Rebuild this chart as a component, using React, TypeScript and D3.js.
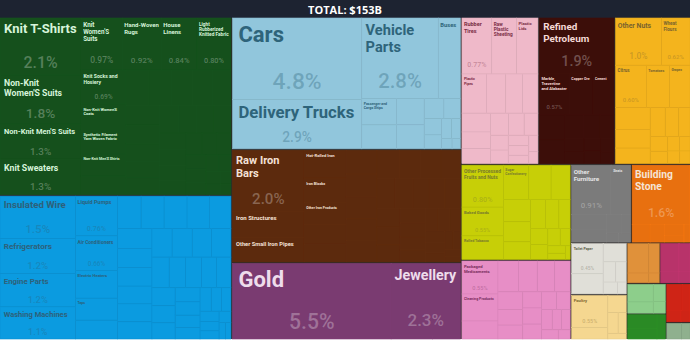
import React, { useMemo } from "react";
import * as d3 from "d3";

const WIDTH = 690;
const HEIGHT = 356;
const HEADER = 18;
const MAP_H = 321;
const TITLE = "TOTAL: $153B";

type Item = [string, number];

// values are shares of total exports (%)
const textiles: Item[] = [
  ["Knit T-Shirts", 2.1], ["Non-Knit Women'S Suits", 1.8], ["Non-Knit Men'S Suits", 1.3], ["Knit Sweaters", 1.3],
  ["Knit Women'S Suits", 0.97], ["Hand-Woven Rugs", 0.92], ["House Linens", 0.84], ["Light Rubberized Knitted Fabric", 0.8],
  ["Knit Socks and Hosiery", 0.69], ["Non-Knit Women'S Coats", 0.51], ["Synthetic Filament Yarn Woven Fabric", 0.51],
  ["Non-Knit Men'S Shirts", 0.45], ["Non-Retail Synthetic Filament Yarn", 0.38],
  ["Heavy Pure Woven Cotton", 0.37], ["Knit Men'S Shirts", 0.36], ["Knit Women'S Undergarments", 0.34],
  ["Non-Knit Women'S Shirts", 0.32], ["Synthetic Staple Fibers Yarn", 0.3], ["Tufted Carpets", 0.3],
  ["Knit Women'S Shirts", 0.28], ["Cotton Yarn", 0.27], ["Knit Babies' Garments", 0.25], ["Non-Knit Active Wear", 0.25],
  ["Other Knit Garments", 0.24], ["Women'S Undergarments", 0.22], ["Light Pure Woven Cotton", 0.22],
  ["Knit Active Wear", 0.21], ["Synthetic Fabrics", 0.2], ["Non-Knit Men'S Coats", 0.19], ["Knit Men'S Suits", 0.18],
  ["Artificial Filament Yarn Woven Fabric", 0.17], ["Embroidery", 0.16], ["Terry Fabric", 0.15], ["Felt", 0.14],
  ["Knit Gloves", 0.13], ["Other Carpets", 0.12], ["Rubber Textiles", 0.11], ["Tire Cord Fabric", 0.1],
  ["Labels", 0.09], ["Used Clothing", 0.08], ["Sacks", 0.07], ["Twine and Rope", 0.06], ["Raw Cotton", 0.05],
];

const machines: Item[] = [
  ["Insulated Wire", 1.45], ["Refrigerators", 1.2], ["Engine Parts", 1.15], ["Washing Machines", 1.1],
  ["Liquid Pumps", 0.76], ["Air Conditioners", 0.66], ["Electric Heaters", 0.53], ["Taps", 0.42], ["Valves", 0.36],
  ["Centrifuges", 0.35], ["AC Generators", 0.34], ["Electric Motors", 0.34], ["Transformers", 0.33],
  ["Low-Voltage Protection Equipment", 0.32], ["Electrical Control Boards", 0.31], ["Lifting Machinery", 0.3],
  ["Industrial Food Preparation Machinery", 0.29], ["Other Heating Machinery", 0.28], ["Ball Bearings", 0.28],
  ["Compressors", 0.27], ["Dishwashers", 0.26], ["Electric Batteries", 0.26], ["Broadcasting Equipment", 0.25],
  ["Video Displays", 0.25], ["Air Pumps", 0.24], ["Transmissions", 0.23], ["Spark-Ignition Engines", 0.22],
  ["Electric Filament", 0.21], ["Large Construction Vehicles", 0.2], ["Harvesting Machinery", 0.19],
  ["Pulley Systems", 0.18], ["Textile Processing Machines", 0.17], ["Metalworking Machines", 0.16],
  ["Electrical Lighting", 0.15], ["Sewing Machines", 0.14], ["Vacuum Cleaners", 0.13], ["Printers", 0.12],
  ["Computers", 0.11], ["Telephones", 0.1], ["Microphones", 0.09], ["Electric Soldering Equipment", 0.08],
  ["Semiconductor Devices", 0.07], ["Capacitors", 0.06], ["Fuses", 0.05], ["Machine Molds", 0.04],
];

const transport: Item[] = [
  ["Cars", 4.8], ["Delivery Trucks", 2.9], ["Vehicle Parts", 2.8], ["Buses", 0.81],
  ["Passenger and Cargo Ships", 0.42], ["Aircraft Parts", 0.38], ["Tractors", 0.33], ["Trailers", 0.3],
  ["Motorcycles", 0.18], ["Railway Freight Cars", 0.15], ["Recreational Boats", 0.13], ["Bicycles", 0.11],
  ["Special Purpose Ships", 0.09], ["Planes", 0.08], ["Motorcycle Parts", 0.05], ["Baby Carriages", 0.04],
];

const metals: Item[] = [
  ["Raw Iron Bars", 2.0], ["Iron Structures", 0.85], ["Other Small Iron Pipes", 0.8],
  ["Hot-Rolled Iron", 0.53], ["Iron Blocks", 0.47], ["Other Iron Products", 0.42], ["Aluminium Plating", 0.38],
  ["Aluminium Bars", 0.34], ["Iron Pipes", 0.33], ["Raw Aluminium", 0.32], ["Refined Copper", 0.31],
  ["Copper Wire", 0.3], ["Iron Fasteners", 0.3], ["Large Flat-Rolled Iron", 0.29], ["Coated Flat-Rolled Iron", 0.27],
  ["Hot-Rolled Iron Bars", 0.26], ["Ferroalloys", 0.25], ["Aluminium Structures", 0.25], ["Aluminium Foil", 0.24],
  ["Iron Stovetops", 0.22], ["Iron Radiators", 0.22], ["Copper Pipes", 0.21], ["Zinc Bars", 0.2], ["Padlocks", 0.19],
  ["Cutlery", 0.18], ["Hand Saws", 0.17], ["Interchangeable Tool Parts", 0.16], ["Iron Chains", 0.15],
  ["Iron Springs", 0.14], ["Other Cast Iron Products", 0.13], ["Iron Nails", 0.12], ["Metal Mountings", 0.11],
  ["Aluminium Cans", 0.1], ["Iron Gas Containers", 0.09], ["Iron Anchors", 0.08], ["Aluminium Wire", 0.07],
  ["Copper Plating", 0.06], ["Lead", 0.05], ["Iron Cloth", 0.04],
];

const precious: Item[] = [
  ["Gold", 5.5], ["Jewellery", 2.3], ["Silver", 0.06], ["Precious Metal Scraps", 0.04],
];

const plastics: Item[] = [
  ["Rubber Tires", 0.77], ["Raw Plastic Sheeting", 0.64], ["Plastic Lids", 0.55], ["Plastic Pipes", 0.44],
  ["Polyacetals", 0.35], ["Plastic Housewares", 0.3], ["Ethylene Polymers", 0.28],
  ["Other Plastic Sheetings", 0.25], ["Plastic Floor Coverings", 0.22], ["Rubber Belts", 0.2],
  ["Propylene Polymers", 0.18], ["Vinyl Chloride Polymers", 0.16], ["Rubber Pipes", 0.14], ["Styrene Polymers", 0.12],
  ["Other Rubber Products", 0.11], ["Synthetic Rubber", 0.1], ["Hard Rubber", 0.09], ["Rubber Inner Tubes", 0.08],
  ["Plastic Coated Textile Fabric", 0.07], ["Acrylic Polymers", 0.05],
];

const minerals: Item[] = [
  ["Refined Petroleum", 1.9], ["Marble, Travertine and Alabaster", 0.57], ["Copper Ore", 0.45], ["Cement", 0.4],
  ["Zinc Ore", 0.3], ["Chromium Ore", 0.28], ["Coal Tar Oil", 0.2], ["Petroleum Gas", 0.18], ["Electricity", 0.15],
  ["Salt", 0.12], ["Gypsum", 0.1], ["Feldspar", 0.1], ["Natural Borates", 0.1], ["Petroleum Coke", 0.08], ["Iron Ore", 0.07],
];

const vegetables: Item[] = [
  ["Other Nuts", 1.0], ["Wheat Flours", 0.62], ["Citrus", 0.6], ["Tomatoes", 0.45], ["Grapes", 0.4],
  ["Dried Legumes", 0.35], ["Pitted Fruits", 0.3], ["Other Fruits", 0.25], ["Wheat", 0.2], ["Other Vegetables", 0.18],
  ["Dried Fruits", 0.15], ["Apples and Pears", 0.12], ["Tea", 0.1], ["Pepper", 0.08], ["Melons", 0.07],
  ["Cut Flowers", 0.07], ["Onions", 0.06],
];

const foodstuffs: Item[] = [
  ["Other Processed Fruits and Nuts", 0.8], ["Baked Goods", 0.55], ["Rolled Tobacco", 0.45],
  ["Sugar Confectionery", 0.4], ["Chocolate", 0.35], ["Pasta", 0.3], ["Other Edible Preparations", 0.28],
  ["Fruit Juice", 0.25], ["Water", 0.22], ["Processed Tomatoes", 0.2], ["Animal Food", 0.18],
  ["Sauces and Seasonings", 0.15], ["Hard Liquor", 0.13], ["Flavored Water", 0.12], ["Coffee and Tea Extracts", 0.1],
  ["Beer", 0.08], ["Processed Fish", 0.06], ["Wine", 0.05], ["Malt Extract", 0.03],
];

const chemicals: Item[] = [
  ["Packaged Medicaments", 0.55], ["Cleaning Products", 0.45], ["Paints", 0.3], ["Beauty Products", 0.29],
  ["Soap", 0.27], ["Nitrogenous Fertilizers", 0.25], ["Synthetic Coloring Matter", 0.22], ["Glues", 0.2],
  ["Pigments", 0.18], ["Sulfuric Acid", 0.16], ["Titanium Oxides", 0.14], ["Polishes and Creams", 0.14],
  ["Borates", 0.13], ["Mixed Mineral or Chemical Fertilizers", 0.12], ["Insecticides", 0.11], ["Perfumes", 0.1],
  ["Vaccines", 0.09], ["Other Organic Compounds", 0.08], ["Essential Oils", 0.07], ["Ink", 0.05],
];

const miscellaneous: Item[] = [
  ["Other Furniture", 0.91], ["Seats", 0.45], ["Lighting Fixtures", 0.25], ["Mattresses", 0.2], ["Toys", 0.13],
  ["Brooms", 0.08], ["Pens", 0.05], ["Lighters", 0.05],
];

const stone: Item[] = [
  ["Building Stone", 1.6], ["Glass Bottles", 0.15], ["Float Glass", 0.12], ["Glass Fibers", 0.1],
  ["Ceramic Sinks", 0.06], ["Other Glass Articles", 0.05],
];

const paper: Item[] = [
  ["Toilet Paper", 0.45], ["Paper Containers", 0.3], ["Uncoated Paper", 0.2], ["Paper Labels", 0.12],
  ["Other Paper Products", 0.1], ["Wallpaper", 0.08], ["Printed Material", 0.05],
];

const animal: Item[] = [
  ["Poultry", 0.55], ["Fish Fillets", 0.2], ["Eggs", 0.15], ["Honey", 0.1], ["Other Fish", 0.08], ["Milk", 0.05],
];

const wood: Item[] = [["Veneer Sheets", 0.3], ["Particle Board", 0.15], ["Wood Fiberboard", 0.1], ["Wooden Tool Handles", 0.05]];
const hides: Item[] = [["Leather Apparel", 0.25], ["Fur Apparel", 0.15], ["Handbags", 0.1], ["Tanned Sheep Hides", 0.06]];
const footwear: Item[] = [["Leather Footwear", 0.22], ["Rubber Footwear", 0.14], ["Other Footwear", 0.1], ["Textile Footwear", 0.07]];
const weapons: Item[] = [["Military Weapons", 0.2], ["Sporting Guns", 0.15], ["Ammunition", 0.1]];
const instruments: Item[] = [["Medical Instruments", 0.2], ["Orthopedic Appliances", 0.1], ["Electricity Meters", 0.08], ["Optical Fibers", 0.05]];
const arts: Item[] = [["Paintings", 0.12], ["Antiques", 0.07]];

const groups: [string, Item[]][] = [
  ["Textiles", textiles], ["Machines", machines], ["Transportation", transport], ["Metals", metals],
  ["Precious Metals", precious], ["Plastics and Rubbers", plastics], ["Mineral Products", minerals],
  ["Vegetable Products", vegetables], ["Foodstuffs", foodstuffs], ["Chemical Products", chemicals],
  ["Miscellaneous", miscellaneous], ["Stone and Glass", stone], ["Paper Goods", paper], ["Animal Products", animal],
  ["Wood Products", wood], ["Animal Hides", hides], ["Footwear and Headwear", footwear], ["Weapons", weapons],
  ["Instruments", instruments], ["Arts and Antiques", arts],
];

const groupStyle: Record<string, { color: string; text: "light" | "dark" }> = {
  "Textiles": { color: "#15501c", text: "light" },
  "Machines": { color: "#0b9be0", text: "dark" },
  "Transportation": { color: "#91c6dc", text: "dark" },
  "Metals": { color: "#5c2a0d", text: "light" },
  "Precious Metals": { color: "#7a3b71", text: "light" },
  "Plastics and Rubbers": { color: "#efb9c9", text: "dark" },
  "Mineral Products": { color: "#3c0e09", text: "light" },
  "Vegetable Products": { color: "#f4b41d", text: "dark" },
  "Foodstuffs": { color: "#c7cf07", text: "dark" },
  "Chemical Products": { color: "#e78ec6", text: "dark" },
  "Miscellaneous": { color: "#7b7b7b", text: "light" },
  "Stone and Glass": { color: "#e8700f", text: "light" },
  "Paper Goods": { color: "#e0dfd8", text: "dark" },
  "Animal Products": { color: "#f5d790", text: "dark" },
  "Wood Products": { color: "#e0913a", text: "dark" },
  "Animal Hides": { color: "#b8336a", text: "light" },
  "Footwear and Headwear": { color: "#8dce8b", text: "dark" },
  "Weapons": { color: "#2a8a25", text: "light" },
  "Instruments": { color: "#cf2416", text: "light" },
  "Arts and Antiques": { color: "#8fb08e", text: "dark" },
};

const NAME_FONT = "Roboto, 'Noto Sans', sans-serif";

let measureCtx: CanvasRenderingContext2D | null = null;
function textWidth(s: string, size: number, weight = 700) {
  if (!measureCtx) measureCtx = document.createElement("canvas").getContext("2d");
  if (!measureCtx) return s.length * size * 0.55;
  measureCtx.font = `${weight} ${size}px ${NAME_FONT}`;
  return measureCtx.measureText(s).width;
}

function wrap(text: string, maxW: number, size: number): string[] | null {
  const words = text.split(/\s+/);
  const lines: string[] = [];
  let cur = "";
  for (const w of words) {
    if (textWidth(w, size) > maxW) return null;
    const cand = cur ? cur + " " + w : w;
    if (textWidth(cand, size) <= maxW) cur = cand;
    else {
      lines.push(cur);
      cur = w;
    }
  }
  if (cur) lines.push(cur);
  return lines;
}

function truncate(text: string, maxW: number, size: number, maxLines: number): string[] | null {
  const words = text.split(/\s+/);
  const lines: string[] = [];
  let cur = "";
  let i = 0;
  for (; i < words.length; i++) {
    const cand = cur ? cur + " " + words[i] : words[i];
    if (textWidth(cand, size) <= maxW) {
      cur = cand;
    } else {
      if (cur && lines.length < maxLines - 1) {
        lines.push(cur);
        cur = "";
        i--;
        continue;
      }
      break;
    }
  }
  if (i < words.length) {
    let base = cur ? cur : words[i];
    let s = base + "...";
    while (base.length > 0 && textWidth(s, size) > maxW) {
      base = base.slice(0, -1).trimEnd();
      s = base + "...";
    }
    if (!base) return lines.length ? lines : null;
    lines.push(s);
  } else if (cur) lines.push(cur);
  return lines;
}

function fitLabel(name: string, w: number, h: number) {
  if (w < 14 || h < 10) return null;
  const pad = Math.max(2, Math.min(6, w * 0.05));
  const avail = w - 2 * pad;
  const f0 = Math.min(22, 1 + 0.0027 * w * h, h * 0.45);
  if (f0 < 3.3) return null;
  const fmin = Math.max(3.3, f0 * 0.6);
  for (let f = f0; f >= fmin; f -= 0.25) {
    const maxLines = Math.max(1, Math.floor((h * 0.42) / (f * 1.15)));
    const lines = wrap(name, avail, f);
    if (lines && lines.length <= maxLines) return { f, f0, lines, pad };
  }
  const f = fmin;
  const maxLines = Math.max(1, Math.floor((h * 0.42) / (f * 1.15)));
  const lines = truncate(name, avail, f, maxLines);
  if (!lines) return null;
  return { f, f0, lines, pad };
}

function nameColor(fill: string, mode: "light" | "dark") {
  const c = d3.hsl(fill);
  const h = isNaN(c.h) ? 0 : c.h;
  if (mode === "light") return d3.hsl(h, Math.min(c.s || 0, 0.6), 0.9).formatHex();
  return d3.hsl(h, Math.min(c.s || 0, 0.45), 0.33).formatHex();
}

const pctFormat = d3.format(".2r");

export default function App() {
  const root = useMemo(() => {
    const data = {
      name: "root",
      children: groups.map(([name, items]) => ({
        name,
        children: items.map(([n, v]) => ({ name: n, value: v })),
      })),
    };
    const r = d3
      .hierarchy<any>(data)
      .sum((d: any) => d.value || 0)
      .sort((a, b) => (b.value || 0) - (a.value || 0));
    const topTile = d3.treemapSquarify.ratio(1.8);
    const subTile = d3.treemapSquarify;
    d3.treemap<any>()
      .size([WIDTH, MAP_H])
      .paddingInner((d: any) => (d.depth === 0 ? 1.5 : 0))
      .tile((node: any, x0: number, y0: number, x1: number, y1: number) =>
        (node.depth === 0 ? topTile : subTile)(node, x0, y0, x1, y1)
      )(r);
    return r;
  }, []);

  const total = root.value || 1;
  const leaves = root.leaves() as any[];

  return (
    <svg
      width={WIDTH}
      height={HEIGHT}
      style={{ position: "absolute", left: 0, top: 0, background: "#ffffff" }}
    >
      <rect x={0} y={0} width={WIDTH} height={HEADER} fill="#1d2331" />
      <text
        x={WIDTH / 2}
        y={13.5}
        textAnchor="middle"
        fill="#ffffff"
        fontFamily="'Open Sans', Lato, sans-serif"
        fontWeight={700}
        fontSize={11}
      >
        {TITLE}
      </text>
      <g transform={`translate(0,${HEADER})`}>
        <rect x={0} y={0} width={WIDTH} height={MAP_H} fill="#2e2a2a" />
        {leaves.map((d, i) => {
          const st = groupStyle[d.parent.data.name];
          const stroke =
            st.text === "light" ? d3.color(st.color)!.brighter(0.18).formatHex() : d3.color(st.color)!.darker(0.16).formatHex();
          return (
            <rect
              key={"r" + i}
              x={d.x0}
              y={d.y0}
              width={Math.max(0, d.x1 - d.x0)}
              height={Math.max(0, d.y1 - d.y0)}
              fill={st.color}
              stroke={stroke}
              strokeWidth={0.6}
            />
          );
        })}
        {leaves.map((d, i) => {
          const st = groupStyle[d.parent.data.name];
          const w = d.x1 - d.x0;
          const h = d.y1 - d.y0;
          const lab = fitLabel(d.data.name, w, h);
          if (!lab) return null;
          const col = nameColor(st.color, st.text);
          const lh = lab.f * 1.15;
          const firstBase = d.y0 + 3 + lab.f * 0.95;
          const nameBottom = firstBase + lh * (lab.lines.length - 1);
          let share: any = null;
          if (h >= 28 && w >= 26) {
            const sf = Math.min(w / 3.3, h * 0.28, 26, lab.f0 * 1.1 + 1);
            const base = Math.max(d.y0 + h * 0.87, nameBottom + sf * 1.15);
            if (sf >= 4.5 && base <= d.y1 - 1) {
              share = (
                <text
                  x={(d.x0 + d.x1) / 2}
                  y={base}
                  textAnchor="middle"
                  fontFamily={NAME_FONT}
                  fontWeight={500}
                  fontSize={sf}
                  fill={st.text === "light" ? "#ffffff" : col}
                  fillOpacity={st.text === "light" ? 0.28 : 0.35}
                >
                  {pctFormat((d.value / total) * 100) + "%"}
                </text>
              );
            }
          }
          return (
            <g key={"t" + i}>
              {lab.lines.map((ln, j) => (
                <text
                  key={j}
                  x={d.x0 + lab.pad}
                  y={firstBase + lh * j}
                  fontFamily={NAME_FONT}
                  fontWeight={700}
                  fontSize={lab.f}
                  fill={col}
                >
                  {ln}
                </text>
              ))}
              {share}
            </g>
          );
        })}
      </g>
    </svg>
  );
}
